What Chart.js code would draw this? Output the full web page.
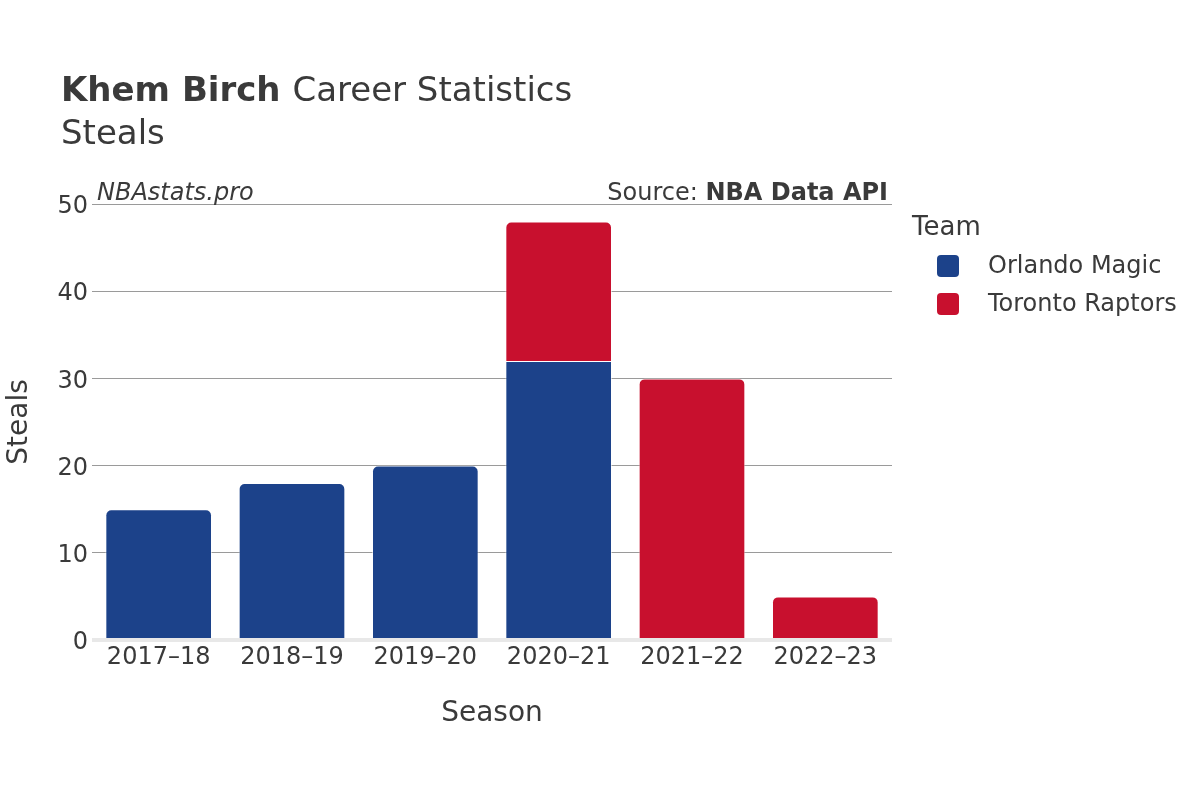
<!DOCTYPE html>
<html>
<head>
<meta charset="utf-8">
<title>Khem Birch Career Statistics - Steals</title>
<script src="https://cdn.jsdelivr.net/npm/chart.js@4.4.0/dist/chart.umd.min.js"></script>
<style>
    html, body { margin: 0; padding: 0; background: #ffffff; }
    #wrap { width: 1200px; height: 800px; position: relative; }
</style>
</head>
<body>
<div id="wrap"><canvas id="stealsChart" width="1200" height="800"></canvas></div>
<script>
// Data
const seasons = ['2017–18', '2018–19', '2019–20', '2020–21', '2021–22', '2022–23'];
const teams = ['Orlando Magic', 'Toronto Raptors'];
const orlandoSteals = [15, 18, 20, 32, null, null];
const torontoSteals = [null, null, null, 16, 30, 5];
const yTicks = [0, 10, 20, 30, 40, 50];

const FONT = "'DejaVu Sans', 'Noto Sans', sans-serif";
const TEXT = '#3a3a3a';
const teamColors = {
    'Orlando Magic': '#1c428a',
    'Toronto Raptors': '#c8102e'
};

// round only the top segment of each stacked column
function topRadius(ctx) {
    const i = ctx.dataIndex;
    const isTop = ctx.datasetIndex === 1 || torontoSteals[i] === null;
    return isTop ? { topLeft: 6, topRight: 6, bottomLeft: 0, bottomRight: 0 } : 0;
}

// Titles, watermark and legend drawn on the canvas
const annotations = {
    id: 'annotations',
    afterDraw(chart) {
        const ctx = chart.ctx;
        const area = chart.chartArea;
        ctx.save();
        ctx.fillStyle = TEXT;
        ctx.textBaseline = 'alphabetic';
        ctx.textAlign = 'left';

        ctx.font = `bold 34px ${FONT}`;
        ctx.fillText('Khem Birch', 61, 101);
        const w = ctx.measureText('Khem Birch ').width;
        ctx.font = `34px ${FONT}`;
        ctx.fillText('Career Statistics', 61 + w, 101);
        ctx.fillText('Steals', 61, 144);

        ctx.font = `italic 24px ${FONT}`;
        ctx.fillText('NBAstats.pro', 97, 200);

        ctx.textAlign = 'right';
        ctx.font = `bold 24px ${FONT}`;
        ctx.fillText('NBA Data API', area.right - 4, 200);
        const bw = ctx.measureText('NBA Data API').width;
        ctx.font = `24px ${FONT}`;
        ctx.fillText('Source: ', area.right - 4 - bw, 200);

        // legend
        ctx.textAlign = 'left';
        ctx.textBaseline = 'middle';
        ctx.font = `26px ${FONT}`;
        ctx.fillText('Team', 912, 228);
        ctx.font = `24px ${FONT}`;
        teams.forEach((team, k) => {
            const cy = 266 + k * 38;
            ctx.fillStyle = teamColors[team];
            ctx.beginPath();
            ctx.roundRect(937, cy - 11, 22, 22, 4);
            ctx.fill();
            ctx.fillStyle = TEXT;
            ctx.fillText(team, 988, cy + 1);
        });
        ctx.restore();
    }
};

const chart = new Chart(document.getElementById('stealsChart'), {
    type: 'bar',
    data: {
        labels: seasons,
        datasets: [
            {
                label: teams[0],
                data: orlandoSteals,
                backgroundColor: teamColors[teams[0]],
                borderColor: 'rgba(255,255,255,0.55)',
                borderWidth: 1,
                borderRadius: topRadius,
                borderSkipped: 'start'
            },
            {
                label: teams[1],
                data: torontoSteals,
                backgroundColor: teamColors[teams[1]],
                borderColor: 'rgba(255,255,255,0.55)',
                borderWidth: 1,
                borderRadius: topRadius,
                borderSkipped: 'start'
            }
        ]
    },
    options: {
        responsive: false,
        animation: false,
        devicePixelRatio: 1,
        layout: {
            padding: { left: 0, right: 308, top: 204, bottom: 0 }
        },
        datasets: {
            bar: { barPercentage: 0.8, categoryPercentage: 1.0 }
        },
        plugins: {
            legend: { display: false },
            tooltip: { enabled: false }
        },
        scales: {
            x: {
                stacked: true,
                afterFit(scale) { scale.height = 160; },
                grid: { display: false, drawTicks: false },
                border: { display: false },
                ticks: {
                    color: TEXT,
                    padding: 3,
                    font: { size: 24, family: FONT }
                },
                title: {
                    display: true,
                    text: 'Season',
                    color: TEXT,
                    padding: { top: 0, bottom: 69 },
                    font: { size: 28, family: FONT }
                }
            },
            y: {
                stacked: true,
                min: 0,
                max: 50,
                afterFit(scale) { scale.width = 92; },
                afterBuildTicks(scale) {
                    scale.ticks = yTicks.map(v => ({ value: v }));
                },
                grid: {
                    drawTicks: false,
                    color: ctx => ctx.tick && ctx.tick.value === 0 ? '#e8e8e8' : '#9a9a9a',
                    lineWidth: ctx => ctx.tick && ctx.tick.value === 0 ? 4 : 1
                },
                border: { display: false },
                ticks: {
                    color: TEXT,
                    padding: 4,
                    labelOffset: 3,
                    font: { size: 24, family: FONT }
                },
                title: {
                    display: true,
                    text: 'Steals',
                    color: TEXT,
                    padding: { top: 3, bottom: 0 },
                    font: { size: 28, family: FONT }
                }
            }
        }
    },
    plugins: [annotations]
});
</script>
</body>
</html>
